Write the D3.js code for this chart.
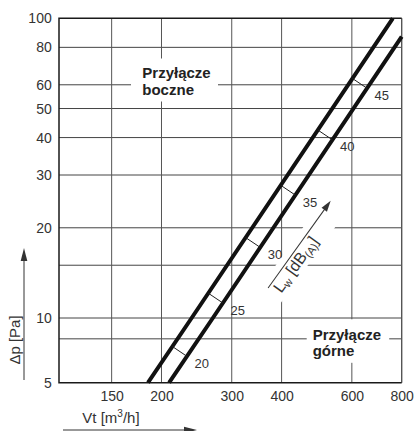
<!DOCTYPE html>
<html><head><meta charset="utf-8">
<script src="https://cdn.jsdelivr.net/npm/d3@7"></script>
<style>
html,body{margin:0;padding:0;background:#fff;}
svg{display:block;font-family:"Liberation Sans",Arial,sans-serif;}
</style></head><body>
<svg id="chart" width="416" height="431"></svg>
<script>
// ---- data ----
const xTicks = [150, 200, 300, 400, 600, 800];
const yTicks = [5, 10, 20, 30, 40, 50, 60, 80, 100];
const yGrid = [8, 10, 15, 20, 30, 40, 50, 60, 80, 100];
const seriesNames = ["Przyłącze boczne", "Przyłącze górne"];
const boczneFlow = [185, 238, 760];
const boczneDp = [5, 10, 100];
const gorneFlow = [209, 269, 800];
const gorneDp = [5, 10, 86.8];
const lwLevels = [20, 25, 30, 35, 40, 45];
const lwFlow = [213, 262, 325, 398, 493, 602];
const lwArrowFrom = [370, 12.6];
const lwArrowTo = [531, 24.6];

// ---- layout ----
const L = 59, T = 18.3, R = 401.7, B = 382.7, Y10 = 318;
const svg = d3.select("#chart");
const x = d3.scaleLog().domain([110.7, 800]).range([L, R]);
const y = d3.scaleLog().domain([5, 10, 100]).range([B, Y10, T]);

// gridlines
const grid = svg.append("g");
grid.selectAll(".hg").data(yGrid.filter(v => v !== 100)).join("line")
  .attr("x1", L).attr("x2", R).attr("y1", d => y(d)).attr("y2", d => y(d))
  .attr("stroke", "#444").attr("stroke-width", 1);
grid.selectAll(".vg").data(xTicks).join("line")
  .attr("x1", d => x(d)).attr("x2", d => x(d)).attr("y1", T).attr("y2", B)
  .attr("stroke", "#555").attr("stroke-width", d => d === 800 ? 1.4 : 1);

// white boxes behind annotations
svg.append("rect").attr("x", 131).attr("y", 58.5).attr("width", 87).attr("height", 43).attr("fill", "#fff");
svg.append("rect").attr("x", 306.7).attr("y", 319.3).attr("width", 82.5).attr("height", 43.5).attr("fill", "#fff");

// frame
svg.append("path").attr("d", `M${R},${T}H${L}V${B}H${R}`)
  .attr("fill", "none").attr("stroke", "#1a1a1a").attr("stroke-width", 1.5);

// Lw label (rotated)
const a0 = [x(lwArrowFrom[0]), y(lwArrowFrom[1])];
const a1 = [x(lwArrowTo[0]), y(lwArrowTo[1])];
const ang = Math.atan2(a1[1] - a0[1], a1[0] - a0[0]) * 180 / Math.PI;
const alen = Math.hypot(a1[0] - a0[0], a1[1] - a0[1]);
const lw = svg.append("g").attr("transform", `translate(${a0[0]},${a0[1]}) rotate(${ang})`);
lw.append("rect").attr("x", -6).attr("y", -7).attr("width", alen + 12).attr("height", 26).attr("fill", "#fff");
lw.append("line").attr("x1", 0).attr("y1", 0).attr("x2", alen - 9).attr("y2", 0)
  .attr("stroke", "#333").attr("stroke-width", 1);
lw.append("path").attr("d", `M${alen},0L${alen - 11},-3.3L${alen - 11},3.3Z`).attr("fill", "#333");
const lwt = lw.append("text").attr("x", 3).attr("y", 14).attr("font-size", 16).attr("fill", "#333");
lwt.append("tspan").text("L");
lwt.append("tspan").attr("font-size", 11).attr("dy", 3).text("w");
lwt.append("tspan").attr("dy", -3).text(" [dB");
lwt.append("tspan").attr("font-size", 11).attr("dy", 3).text("(A)");
lwt.append("tspan").attr("dy", -3).text("]");

// main curves
const pts1 = boczneFlow.map((v, i) => [x(v), y(boczneDp[i])]);
const pts2 = gorneFlow.map((v, i) => [x(v), y(gorneDp[i])]);
const line = d3.line();
[pts1, pts2].forEach((p, i) => {
  svg.append("path").attr("d", line(p)).attr("fill", "none")
    .attr("stroke", "#111").attr("stroke-width", 4).attr("class", "series")
    .attr("data-name", seriesNames[i]);
});

// Lw ticks between curves
function onLine(pts, px) {
  for (let i = 0; i < pts.length - 1; i++) {
    const [p, q] = [pts[i], pts[i + 1]];
    if (px >= Math.min(p[0], q[0]) && px <= Math.max(p[0], q[0])) {
      const t = (px - p[0]) / (q[0] - p[0]);
      return { pt: [px, p[1] + t * (q[1] - p[1])], dir: [q[0] - p[0], q[1] - p[1]] };
    }
  }
  return null;
}
function hit(P, n, pts) {
  for (let i = 0; i < pts.length - 1; i++) {
    const A = pts[i], Bq = pts[i + 1];
    const ex = Bq[0] - A[0], ey = Bq[1] - A[1];
    const det = n[0] * (-ey) - n[1] * (-ex);
    const rx = A[0] - P[0], ry = A[1] - P[1];
    const s = (rx * (-ey) - ry * (-ex)) / det;
    const r = (n[0] * ry - n[1] * rx) / det;
    if (r >= -0.01 && r <= 1.01) return [P[0] + s * n[0], P[1] + s * n[1]];
  }
  return null;
}
lwLevels.forEach((lev, i) => {
  const o = onLine(pts1, x(lwFlow[i]));
  const d = Math.hypot(o.dir[0], o.dir[1]);
  const n = [-o.dir[1] / d, o.dir[0] / d];
  if (n[0] < 0) { n[0] = -n[0]; n[1] = -n[1]; }
  const E = hit(o.pt, n, pts2);
  svg.append("line").attr("x1", o.pt[0]).attr("y1", o.pt[1]).attr("x2", E[0]).attr("y2", E[1])
    .attr("stroke", "#222").attr("stroke-width", 1);
  svg.append("text").attr("x", E[0] + 7.5).attr("y", E[1] + 7).attr("dy", "0.35em")
    .attr("font-size", 13).attr("fill", "#333").text(lev);
});

// axes
const yAxis = svg.append("g").attr("transform", `translate(${L},0)`)
  .call(d3.axisLeft(y).tickValues(yTicks).tickFormat(d3.format("d")).tickSize(0).tickPadding(7.3));
yAxis.select(".domain").remove();
yAxis.selectAll("text").attr("font-size", 14).attr("fill", "#333").attr("font-family", null);
const xAxis = svg.append("g").attr("transform", `translate(0,${B})`)
  .call(d3.axisBottom(x).tickValues(xTicks).tickFormat(d3.format("d")).tickSize(0).tickPadding(8));
xAxis.select(".domain").remove();
xAxis.selectAll("text").attr("font-size", 14).attr("fill", "#333").attr("font-family", null);

// annotation labels
function label2(xp, yp, l1, l2) {
  const t = svg.append("text").attr("x", xp).attr("y", yp).attr("font-size", 15)
    .attr("font-weight", "bold").attr("fill", "#222");
  t.append("tspan").attr("x", xp).text(l1);
  t.append("tspan").attr("x", xp).attr("dy", 16.3).text(l2);
}
label2(142.3, 78.3, "Przyłącze", "boczne");
label2(312.7, 340, "Przyłącze", "górne");

// axis titles with arrows
svg.append("text").attr("transform", "translate(20,340) rotate(-90)").attr("text-anchor", "middle")
  .attr("font-size", 15).attr("fill", "#333").text("Δp [Pa]");
svg.append("line").attr("x1", 24).attr("x2", 24).attr("y1", 380).attr("y2", 259)
  .attr("stroke", "#333").attr("stroke-width", 1);
svg.append("path").attr("d", "M24,248L20.7,261L27.3,261Z").attr("fill", "#333");

const vt = svg.append("text").attr("x", 82.3).attr("y", 423).attr("font-size", 15).attr("fill", "#333");
vt.append("tspan").text("Vt [m");
vt.append("tspan").attr("font-size", 10).attr("dy", -6).text("3");
vt.append("tspan").attr("dy", 6).text("/h]");
svg.append("line").attr("x1", 63).attr("x2", 186).attr("y1", 430).attr("y2", 430)
  .attr("stroke", "#333").attr("stroke-width", 1);
svg.append("path").attr("d", "M197,430L184,426.7L184,433.3Z").attr("fill", "#333");
</script>
</body></html>
